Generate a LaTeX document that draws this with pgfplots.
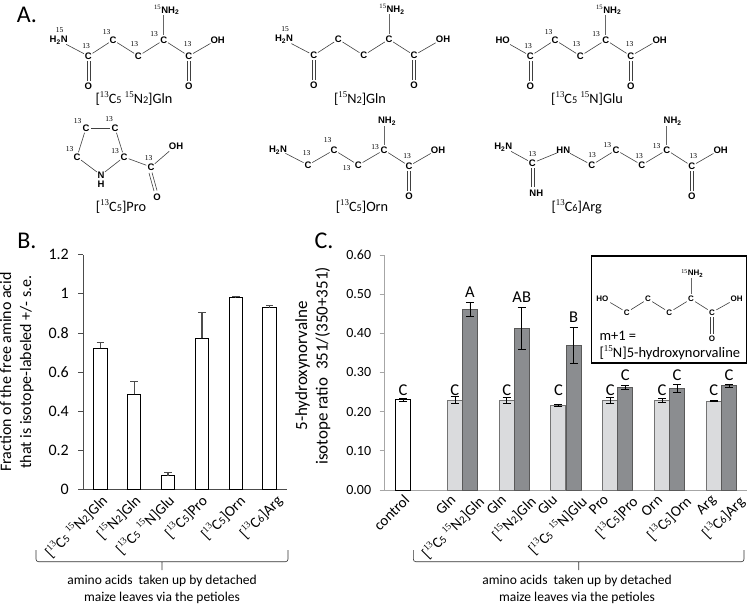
\documentclass[border=0pt]{standalone}
\usepackage{fontspec}
\usepackage{pgfplots}
\pgfplotsset{compat=1.18}
\setmainfont{Carlito}
\newfontfamily\tms{Liberation Serif}
\newfontfamily\hlv{Liberation Sans}

\newcommand{\fs}[1]{\fontsize{#1}{#1}\selectfont}
\newcommand{\su}[1]{\raisebox{0.42em}{\tms\scalebox{0.62}{#1}}}
\newcommand{\dn}[1]{\scalebox{0.72}{#1}}
\newcommand{\hca}{[\su{13}C\dn{5} \su{15}N\dn{2}]}
\definecolor{lightbar}{HTML}{DADBDD}
\definecolor{darkbar}{HTML}{8B8D90}

% chemistry helpers, all in pixels of the reference
\tikzset{atom/.style={font=\hlv\fs{9.5}\bfseries,inner sep=0pt},
  num/.style={font=\tms\fs{7.5},inner sep=0pt},
  bond/.style={line width=0.6pt,draw=black!75,shorten >=5pt,shorten <=5pt}}
\newcommand{\A}[3]{\node[atom] at (#1,#2) {#3};}
\newcommand{\N}[2]{\node[num] at (#1,#2) {13};}
\newcommand{\B}[4]{\draw[bond] (#1,#2)--(#3,#4);}
\newcommand{\D}[4]{\draw[bond,transform canvas={xshift=-1.5pt}] (#1,#2)--(#3,#4);
  \draw[bond,transform canvas={xshift=1.5pt}] (#1,#2)--(#3,#4);}
% C-alpha at origin, carboxyl to the right
\newcommand{\acid}{\A{0}{0}{C}\A{25}{16}{C}\A{25}{46}{O}\A{54}{0}{OH}
  \B{0}{0}{25}{16}\D{25}{16}{25}{46}\B{25}{16}{51}{1}}
% two chain carbons and the C1 position
\newcommand{\chain}{\A{-25.3}{16}{C}\A{-50.7}{0}{C}\A{-75.3}{16}{C}
  \B{0}{0}{-25.3}{16}\B{-25.3}{16}{-50.7}{0}\B{-50.7}{0}{-75.3}{16}}
\newcommand{\toplab}[1]{\A{3}{-30}{#1}\draw[line width=0.6pt,draw=black!60] (0,-25)--(0,-5);}
\newcommand{\five}{\N{-9.7}{-6}\N{24}{4}\N{-29.3}{4.3}\N{-57}{-8.3}\N{-77.7}{5.7}}
\newcommand{\suA}{\textsuperscript{\normalfont\tms 15}}

\begin{document}
\begin{tikzpicture}[x=1pt,y=-1pt]
\useasboundingbox (0,0) rectangle (748,605);

% panel B
\begin{axis}[
  at={(83.3pt,-489.3pt)},anchor=south west,
  scale only axis,width=203.4pt,height=234.6pt,
  axis x line=bottom,axis y line=left,axis line style={-,draw=black!70,line width=0.7pt},
  xmin=-0.5,xmax=5.5,ymin=0,ymax=1.2,
  ybar,bar width=13.6pt,
  xtick={-0.19,0.79,1.785,2.76,3.88,4.97},
  xticklabels={{\hca Gln},{[\su{15}N\dn{2}]Gln},{[\su{13}C\dn{5} \su{15}N]Glu},{[\su{13}C\dn{5}]Pro},{[\su{13}C\dn{5}]Orn},{[\su{13}C\dn{6}]Arg}},
  xticklabel style={rotate=45,anchor=north east,font=\fs{15},inner sep=0pt,xshift=5pt,yshift=-3pt},
  major x tick style={draw=none},
  ytick={0,0.2,0.4,0.6,0.8,1,1.2},
  yticklabel style={font=\fs{16},/pgf/number format/assume math mode=true,xshift=-6pt},
  tick style={draw=black!70,line width=0.7pt},
  tick align=outside,major tick length=5pt,
  ylabel={Fraction of the free amino acid\\that is isotope-labeled +/- s.e.},
  ylabel style={align=center,font=\fontsize{16}{20}\selectfont},
  ylabel shift=8pt,
  clip=false,
]
\addplot[draw=black,fill=white,line width=1pt,
  error bars/.cd,y dir=plus,y explicit,
  error bar style={draw=black!70,line width=1.2pt},
  error mark options={rotate=90,draw=black!70,mark size=3.7pt,line width=1pt}]
  coordinates {
  (0,0.721) +- (0,0.031)
  (1,0.486) +- (0,0.063)
  (2,0.070) +- (0,0.015)
  (3,0.772) +- (0,0.131)
  (4,0.982) +- (0,0.003)
  (5,0.929) +- (0,0.010)
};
\end{axis}

% panel C
\begin{axis}[
  at={(384.7pt,-490pt)},anchor=south west,
  scale only axis,width=362.6pt,height=235pt,
  axis x line=bottom,axis y line=left,axis line style={-,draw=black!35,line width=0.7pt},
  xmin=-0.5,xmax=6.5,ymin=0,ymax=0.6,
  ybar,bar width=15pt,
  xtick={-0.255,0.633,1.160,1.611,2.158,2.596,3.143,3.592,4.126,4.635,5.156,5.665,6.186},
  xticklabels={control,Gln,{\hca Gln},Gln,{[\su{15}N\dn{2}]Gln},Glu,{[\su{13}C\dn{5} \su{15}N]Glu},Pro,{[\su{13}C\dn{5}]Pro},Orn,{[\su{13}C\dn{5}]Orn},Arg,{[\su{13}C\dn{6}]Arg}},
  xticklabel style={rotate=45,anchor=north east,font=\fs{15},inner sep=0pt,xshift=5pt,yshift=-3pt},
  major x tick style={draw=none},
  extra x ticks={-0.5,0.5,1.5,2.5,3.5,4.5,5.5,6.5},
  extra x tick labels={},
  extra x tick style={major tick length=3.5pt,tick style={draw=black!35,line width=0.7pt}},
  ytick={0,0.1,0.2,0.3,0.4,0.5,0.6},
  yticklabel style={font=\fs{14},xshift=-5pt,/pgf/number format/assume math mode=true,
    /pgf/number format/fixed,/pgf/number format/zerofill,/pgf/number format/precision=2},
  ytick style={draw=black!35,line width=0.7pt},
  tick align=outside,major tick length=5pt,
  ylabel={5-hydroxynorvalne\\isotope ratio\ \ 351/(350+351)},
  ylabel style={align=center,font=\fontsize{17}{20.5}\selectfont,at={(ticklabel cs:0.528)}},
  ylabel shift=9pt,
  clip=false,
]
\addplot[bar shift=0pt,draw=black,fill=white,line width=1pt,
  error bars/.cd,y dir=both,y explicit,
  error bar style={draw=black,line width=0.7pt},
  error mark options={rotate=90,draw=black,mark size=4pt,line width=0.7pt}]
  coordinates {(-0.145,0.2306) +- (0,0.003)};
\addplot[bar shift=0pt,draw=black!55,fill=lightbar,line width=1pt,
  error bars/.cd,y dir=both,y explicit,
  error bar style={draw=black,line width=0.7pt},
  error mark options={rotate=90,draw=black,mark size=4pt,line width=0.7pt}]
  coordinates {
  (0.855,0.229) +- (0,0.009)
  (1.855,0.229) +- (0,0.007)
  (2.855,0.216) +- (0,0.002)
  (3.855,0.229) +- (0,0.008)
  (4.855,0.228) +- (0,0.005)
  (5.855,0.2272) +- (0,0.001)
};
\addplot[bar shift=0pt,draw=black!65,fill=darkbar,line width=1pt,
  error bars/.cd,y dir=both,y explicit,
  error bar style={draw=black,line width=0.7pt},
  error mark options={rotate=90,draw=black,mark size=4pt,line width=0.7pt}]
  coordinates {
  (1.145,0.461) +- (0,0.018)
  (2.145,0.413) +- (0,0.054)
  (3.145,0.3685) +- (0,0.046)
  (4.145,0.262) +- (0,0.005)
  (5.145,0.2596) +- (0,0.009)
  (6.145,0.266) +- (0,0.004)
};
\node[font=\fs{16.5},inner sep=0pt] at (axis cs:-0.145,0.255) {C};
\node[font=\fs{16.5},inner sep=0pt] at (axis cs:0.855,0.255) {C};
\node[font=\fs{16.5},inner sep=0pt] at (axis cs:1.145,0.504) {A};
\node[font=\fs{16.5},inner sep=0pt] at (axis cs:1.855,0.255) {C};
\node[font=\fs{16.5},inner sep=0pt] at (axis cs:2.145,0.491) {AB};
\node[font=\fs{16.5},inner sep=0pt] at (axis cs:2.855,0.255) {C};
\node[font=\fs{16.5},inner sep=0pt] at (axis cs:3.145,0.44) {B};
\node[font=\fs{16.5},inner sep=0pt] at (axis cs:3.855,0.255) {C};
\node[font=\fs{16.5},inner sep=0pt] at (axis cs:4.145,0.2936) {C};
\node[font=\fs{16.5},inner sep=0pt] at (axis cs:4.855,0.255) {C};
\node[font=\fs{16.5},inner sep=0pt] at (axis cs:5.145,0.2936) {C};
\node[font=\fs{16.5},inner sep=0pt] at (axis cs:5.855,0.255) {C};
\node[font=\fs{16.5},inner sep=0pt] at (axis cs:6.145,0.2936) {C};
\end{axis}

% panel letters
\node[font=\fs{24}] at (27,15) {A.};
\node[font=\fs{24}] at (27,241) {B.};
\node[font=\fs{24}] at (324,241) {C.};

% top row of structures
\begin{scope}[shift={(163.7,40)}]
  \acid\chain\five\toplab{\suA NH\textsubscript{2}}
  \A{-105}{0}{H\textsubscript{2}N}\node[num] at (-104,-10) {15};
  \B{-102}{2}{-75.3}{16}\D{-75.3}{16}{-75.3}{46}\A{-75.3}{46}{O}
\end{scope}
\begin{scope}[shift={(389,39.3)}]
  \acid\chain\toplab{\suA NH\textsubscript{2}}
  \A{-105}{0}{H\textsubscript{2}N}\node[num] at (-104,-10) {15};
  \B{-102}{2}{-75.3}{16}\D{-75.3}{16}{-75.3}{46}\A{-75.3}{46}{O}
\end{scope}
\begin{scope}[shift={(605.7,40)}]
  \acid\chain\five\toplab{\suA NH\textsubscript{2}}
  \A{-103}{0}{HO}
  \B{-100}{2}{-75.3}{16}\D{-75.3}{16}{-75.3}{46}\A{-75.3}{46}{O}
\end{scope}

% bottom row
\begin{scope}[shift={(121,160)}]
  \A{-35}{-32}{C}\A{-6}{-32}{C}\A{3}{-3}{C}\A{-44}{-3}{C}\A{-20}{15}{N}\A{-20}{24.5}{H}
  \A{30}{7}{C}\A{36}{37}{O}\A{55}{-14}{OH}
  \B{-35}{-32}{-6}{-32}\B{-6}{-32}{3}{-3}\B{-35}{-32}{-44}{-3}\B{-44}{-3}{-20}{15}\B{3}{-3}{-20}{15}
  \B{3}{-3}{30}{7}\B{30}{7}{52}{-12}
  \draw[line width=0.6pt,draw=black!75] (28,13)--(33,31) (31,12.5)--(36,30.5);
  \N{-43.5}{-39}\N{-12}{-41}\N{-6}{-8.5}\N{-51.5}{-11}\N{27.5}{-1.5}
\end{scope}
\begin{scope}[shift={(384,150)}]
  \acid\A{-25.7}{15}{C}\A{-50}{0}{C}\A{-76}{15}{C}\A{-106}{0}{H\textsubscript{2}N}
  \A{3}{-29}{NH\textsubscript{2}}\draw[line width=0.6pt,draw=black!60] (0,-24)--(0,-5);
  \B{0}{0}{-25.7}{15}\B{-25.7}{15}{-50}{0}\B{-50}{0}{-76}{15}\B{-76}{15}{-103}{1}
  \N{-77.3}{3.3}\N{-56.3}{-10}\N{-37.3}{18}\N{-9}{-3}\N{23}{6}
\end{scope}
\begin{scope}[shift={(666.7,150)}]
  \acid\A{-25}{15}{C}\A{-50.7}{0}{C}\A{-75}{15}{C}\A{-103.4}{0}{HN}\A{-134.4}{13}{C}
  \A{-163.4}{-3}{H\textsubscript{2}N}\A{-130.4}{43.7}{NH}
  \A{6}{-29}{NH\textsubscript{2}}\draw[line width=0.6pt,draw=black!60] (0,-24)--(0,-5);
  \B{0}{0}{-25}{15}\B{-25}{15}{-50.7}{0}\B{-50.7}{0}{-75}{15}\B{-75}{15}{-101}{1}
  \B{-105}{1}{-134.4}{13}\B{-134.4}{13}{-160}{-1}\D{-134.4}{13}{-134.4}{42}
  \N{-134.4}{3.7}\N{-74.7}{5}\N{-59.4}{-5}\N{-27.7}{6.3}\N{-10}{-4}\N{26.6}{6}
\end{scope}

% structure names
\begin{scope}[every node/.style={font=\fs{14.3},inner sep=0pt}]
  \node at (134,98.7) {\hca Gln};
  \node at (360,98.7) {[\su{15}N\dn{2}]Gln};
  \node at (587,98.7) {[\su{13}C\dn{5} \su{15}N]Glu};
  \node at (121,206.7) {[\su{13}C\dn{5}]Pro};
  \node at (362,206.7) {[\su{13}C\dn{5}]Orn};
  \node at (576.7,206.7) {[\su{13}C\dn{6}]Arg};
\end{scope}

% inset
\draw[line width=1.2pt,fill=white] (591.7,256) rectangle (746.7,363);
\begin{scope}[shift={(691,299)},atom/.append style={font=\hlv\fs{8}\bfseries}]
  \A{0}{0}{C}\A{21}{13.3}{C}\A{21}{39.7}{O}\A{45.7}{0}{OH}
  \B{0}{0}{21}{13.3}\D{21}{13.3}{21}{39.7}\B{21}{13.3}{43}{1}
  \A{-21.7}{13.3}{C}\A{-43}{0}{C}\A{-64.3}{13.3}{C}\A{-88.7}{0}{HO}
  \B{0}{0}{-21.7}{13.3}\B{-21.7}{13.3}{-43}{0}\B{-43}{0}{-64.3}{13.3}\B{-64.3}{13.3}{-85}{1}
  \A{1.3}{-25.7}{\suA NH\textsubscript{2}}\draw[line width=0.6pt,draw=black!60] (0,-21)--(0,-5);
\end{scope}
\node[font=\fs{14.5},anchor=west,inner sep=0pt] at (599.3,336) {m+1 =};
\node[font=\fs{14.5},anchor=west,inner sep=0pt] at (599.3,353) {[\su{15}N]5-hydroxynorvaline};

% brackets and captions
\draw[line width=0.6pt,draw=black!80,rounded corners=2.5pt]
  (36,550)--(36,561.7)--(288,561.7)--(288,550) (162,561.7)--(162,570);
\draw[line width=0.6pt,draw=black!80,rounded corners=2.5pt]
  (413.3,550)--(413.3,561.7)--(744,561.7)--(744,550) (578.7,561.7)--(578.7,570);
\node[font=\fs{13.5},inner sep=0pt] at (162,581) {amino acids\ \ taken up by detached};
\node[font=\fs{13.5},inner sep=0pt] at (162,598) {maize leaves via the petioles};
\node[font=\fs{13.5},inner sep=0pt] at (577,581) {amino acids\ \ taken up by detached};
\node[font=\fs{13.5},inner sep=0pt] at (577,598) {maize leaves via the petioles};
\end{tikzpicture}
\end{document}
